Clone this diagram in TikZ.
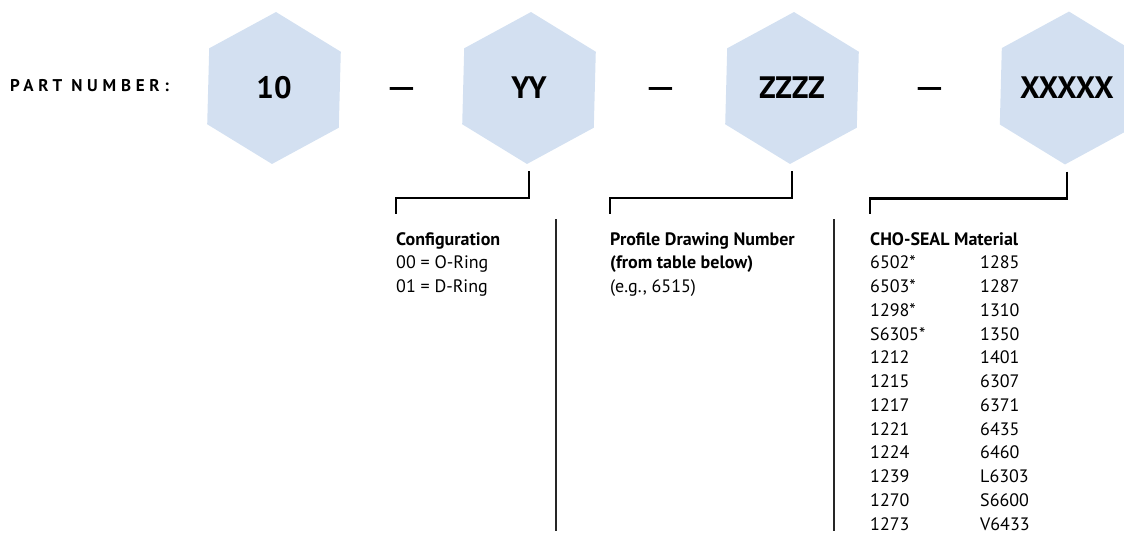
\documentclass[tikz,border=0pt]{standalone}
\usepackage{fontspec}
\setmainfont{PT Sans}
\usetikzlibrary{shapes.geometric, calc}
\definecolor{hexblue}{RGB}{211,224,241}

\begin{document}
\begin{tikzpicture}[x=1pt, y=-1pt,
  hexa/.style={regular polygon, regular polygon sides=6, shape border rotate=28.5,
    minimum size=152pt, inner sep=0pt, fill=hexblue,
    font=\fontsize{31}{31}\selectfont\bfseries},
  sep/.style={anchor=base, inner sep=0pt, font=\fontsize{40}{40}\selectfont},
  title/.style={anchor=west, inner sep=0pt,
    font=\fontsize{17}{17}\selectfont\bfseries\addfontfeature{LetterSpace=28}},
  head/.style={anchor=base west, inner sep=0pt, font=\fontsize{18}{18}\selectfont\bfseries},
  entry/.style={anchor=base west, inner sep=0pt, font=\fontsize{18}{18}\selectfont},
  bracket/.style={line width=2.4pt, line join=miter},
  divider/.style={line width=1.2pt, black!85}]

\useasboundingbox (0,0) rectangle (1124,535);
\clip (0,0) rectangle (1124,535);

% --- Part number ---
\node[title] (partno) at (10,86) {PART NUMBER:};

% --- Hexagons ---
\node[hexa] (hex10) at (274,88) {10};
\node[hexa] (hexyy) at (529,88) {YY};
\node[hexa] (hexzz) at (792,88) {ZZZZ};
\node[hexa] (hexxx) at (1067,88) {XXXXX};

% --- Dashes ---
\node[sep] (sep1) at ($(hex10)!0.5!(hexyy)+(0,12.5)$) {—};
\node[sep] (sep2) at ($(hexyy)!0.5!(hexzz)+(0,12.5)$) {—};
\node[sep] (sep3) at ($(hexzz)!0.5!(hexxx)+(0,12.5)$) {—};

% --- Configuration ---
\node[head] (cfghead) at (396,245) {Configuration};
\node[entry] (cfg0) at (396,268.75) {00 = O-Ring};
\node[entry] (cfg1) at (396,292.5) {01 = D-Ring};

% --- Profile ---
\node[head] (profhead) at (610,245) {Profile Drawing Number};
\node[head] (profsub) at (610,268.75) {(from table below)};
\node[entry] (profex) at (610,292.5) {(e.g., 6515)};

% --- Material ---
\node[head] (mathead) at (870,245) {CHO-SEAL Material};
\foreach \a/\b [count=\i] in {6502*/1285, 6503*/1287, 1298*/1310, S6305*/1350,
    1212/1401, 1215/6307, 1217/6371, 1221/6435, 1224/6460, 1239/L6303,
    1270/S6600, 1273/V6433}
{
  \node[entry] (mat\i-a) at (870,{245+23.75*\i}) {\a};
  \node[entry] (mat\i-b) at (980,{245+23.75*\i}) {\b};
}

% --- Brackets ---
\draw[bracket] ([yshift=-8pt]hexyy.south) -- ++(0,27) -| ([yshift=31pt]cfghead.base west);
\draw[bracket] ([yshift=-8pt]hexzz.south) -- ++(0,27) -| ([yshift=31pt]profhead.base west);
\draw[bracket] ([yshift=-8pt]hexxx.south) -- ++(0,27) -| ([yshift=31pt]mathead.base west);

% --- Dividers ---
\draw[divider] (556,219) -- (556,531);
\draw[divider] (834,219) -- (834,531);

\end{tikzpicture}
\end{document}
